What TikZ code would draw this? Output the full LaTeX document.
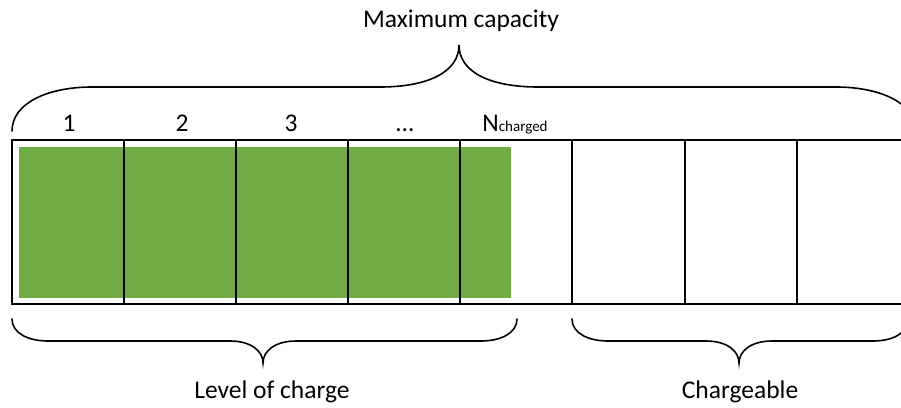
\documentclass[tikz,border=0pt]{standalone}
\usepackage{fontspec}
\setmainfont{Carlito}
\begin{document}
\begin{tikzpicture}[x=1pt,y=-1pt,
  lbl/.style={anchor=base,inner sep=0pt,font=\fontsize{25.5}{30}\selectfont},
  brace/.style={line width=1.6pt,line cap=round},
  frame/.style={line width=1.8pt},
  divider/.style={line width=1.4pt}]
\definecolor{chargegreen}{HTML}{70AD47}
\path[use as bounding box] (0,0) rectangle (901,407);
\clip (0,0) rectangle (901,407);

% charged part of the battery
\fill[chargegreen] (19,147) rectangle (511,298);

% battery frame (continues past the right edge)
\draw[frame] (920,140) -| (12,304) -- (920,304);
\foreach \x in {124,236,348,460,572,685,797}
  \draw[divider] (\x,140) -- (\x,304);

% top brace: whole capacity
\draw[brace] (12,131) .. controls (12,103) and (48,87) .. (92,87) -- (380,87)
  .. controls (428,87) and (459,72) .. (459,45)
  .. controls (459,72) and (490,87) .. (538,87) -- (836,87)
  .. controls (880,87) and (916,103) .. (916,131);

% bottom braces
\draw[brace] (12,319) .. controls (12,333) and (28,341) .. (48,341) -- (230,341)
  .. controls (251,341) and (263,351) .. (263,363)
  .. controls (263,351) and (275,341) .. (296,341) -- (481,341)
  .. controls (501,341) and (517,333) .. (517,319);
\draw[brace] (572,319) .. controls (572,333) and (588,341) .. (608,341) -- (706,341)
  .. controls (727,341) and (739,351) .. (739,363)
  .. controls (739,351) and (751,341) .. (772,341) -- (873,341)
  .. controls (893,341) and (908,333) .. (908,319);

% labels
\node[lbl] (maxcap) at (461,27) {Maximum capacity};
\node[lbl] (c1) at (69,131) {1};
\node[lbl] (c2) at (182,131) {2};
\node[lbl] (c3) at (291,131) {3};
\node[lbl] (cdots) at (405,131) {…};
\node[lbl] (cn) at (515,131) {N{\fontsize{15}{18}\selectfont charged}};
\node[lbl] (level) at (272,398) {Level of charge};
\node[lbl] (chargeable) at (740,398) {Chargeable};
\end{tikzpicture}
\end{document}
